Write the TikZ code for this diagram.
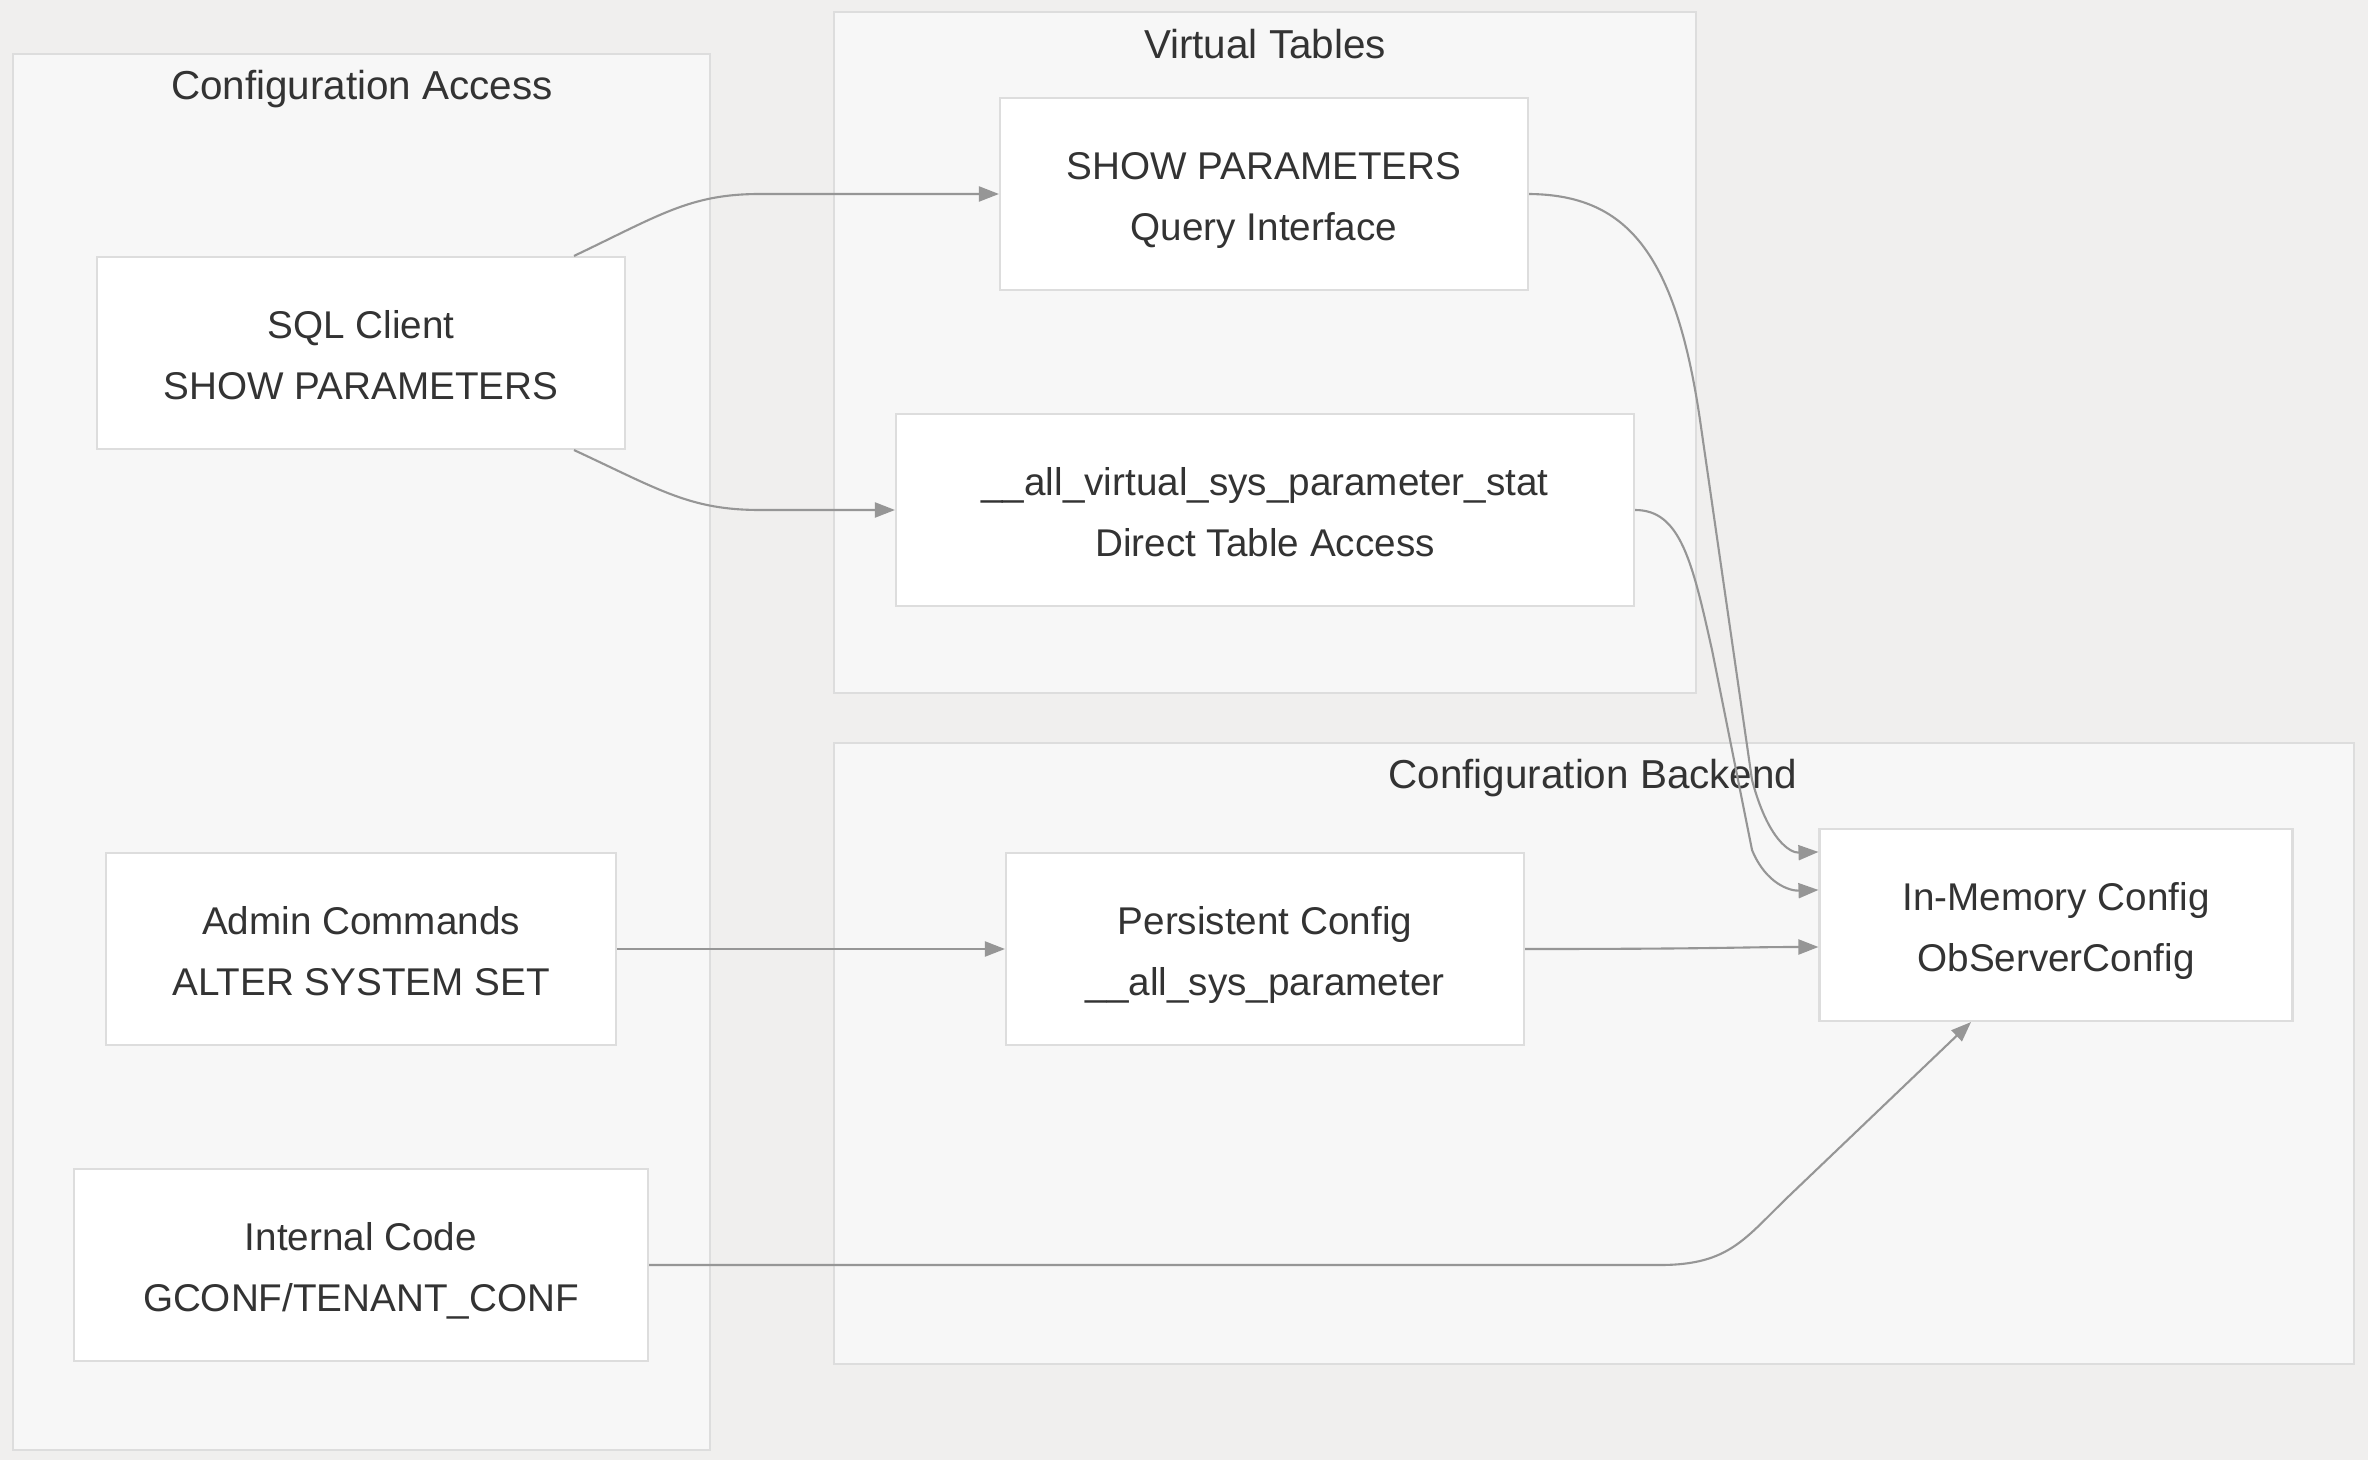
\documentclass[tikz,border=0pt]{standalone}
\usepackage{fontspec}
\setmainfont{Liberation Sans}
\usetikzlibrary{arrows.meta, calc}
\definecolor{cfgbg}{RGB}{240,239,238}
\definecolor{cfgcluster}{RGB}{247,247,247}
\definecolor{cfgborder}{RGB}{221,221,221}
\definecolor{cfgedge}{RGB}{150,150,150}
\definecolor{cfgtext}{RGB}{51,51,51}
\tikzset{
  cluster/.style={
    draw=cfgborder,
    line width=0.6pt,
    fill=cfgcluster
  },
  cluster title/.style={
    font=\fontsize{11.5}{13}\selectfont,
    text=cfgtext
  },
  box/.style={
    draw=cfgborder,
    line width=0.6pt,
    fill=white,
    minimum height=19.2mm,
    inner sep=0pt,
    align=center,
    text height=26.4pt,
    text depth=0pt,
    text=cfgtext,
    font=\fontsize{11}{17.2}\selectfont
  },
  flow/.style={
    -{Triangle[length=2mm, width=1.5mm]},
    draw=cfgedge,
    line width=0.6pt
  }
}

\begin{document}
\begin{tikzpicture}[x=0.1mm, y=-0.1mm]
  \useasboundingbox[fill=cfgbg] (0,0) rectangle (2368,1460);

  \draw[cluster] (13,54) rectangle (710,1450);
  \draw[cluster] (834,12) rectangle (1696,693);
  \draw[cluster] (834,743) rectangle (2354,1364);
  \node[cluster title] (accesst) at (362,89) {Configuration Access};
  \node[cluster title] (tablest) at (1265,44) {Virtual Tables};
  \node[cluster title] (backendt) at (1593,778) {Configuration Backend};

  \node[box, minimum width=52.8mm] (sql) at (361,353) {SQL Client\\SHOW PARAMETERS};
  \node[box, minimum width=51mm] (admin) at (361,949) {Admin Commands\\ALTER SYSTEM SET};
  \node[box, minimum width=57.4mm] (int) at (361,1265) {Internal Code\\GCONF/TENANT\_CONF};
  \node[box, minimum width=52.8mm] (qi) at (1264,194) {SHOW PARAMETERS\\Query Interface};
  \node[box, minimum width=73.8mm] (vt) at (1265,510) {\_\_all\_virtual\_sys\_parameter\_stat\\Direct Table Access};
  \node[box, minimum width=51.8mm] (pc) at (1265,949) {Persistent Config\\\_\_all\_sys\_parameter};
  \node[box, minimum width=47.3mm] (mem) at (2056,925) {In-Memory Config\\ObServerConfig};

  \path[flow] ($(sql.north)+(213,0)$) .. controls (660,215) and (690,194) .. (760,194) -- (qi.west);
  \path[flow] ($(sql.south)+(213,0)$) .. controls (660,490) and (690,510) .. (760,510) -- (vt.west);
  \path[flow] (qi.east) .. controls (1625,195) and (1675,250) .. (1700,420)
    -- (1752,780) .. controls (1768,840) and (1790,853) .. ($(mem.north west)+(0,24)$);
  \path[flow] (vt.east) .. controls (1680,510) and (1692,560) .. (1712,650)
    -- (1752,850) .. controls (1766,884) and (1790,891) .. ($(mem.north west)+(0,62)$);
  \path[flow] (admin.east) -- (pc.west);
  \path[flow] (pc.east) .. controls (1720,949) and (1740,947) .. ($(mem.west)+(0,22)$);
  \path[flow] (int.east) -- (1660,1265) .. controls (1730,1265) and (1745,1238) .. (1790,1195)
    -- ($(mem.south)+(-85,0)$);
\end{tikzpicture}
\end{document}
